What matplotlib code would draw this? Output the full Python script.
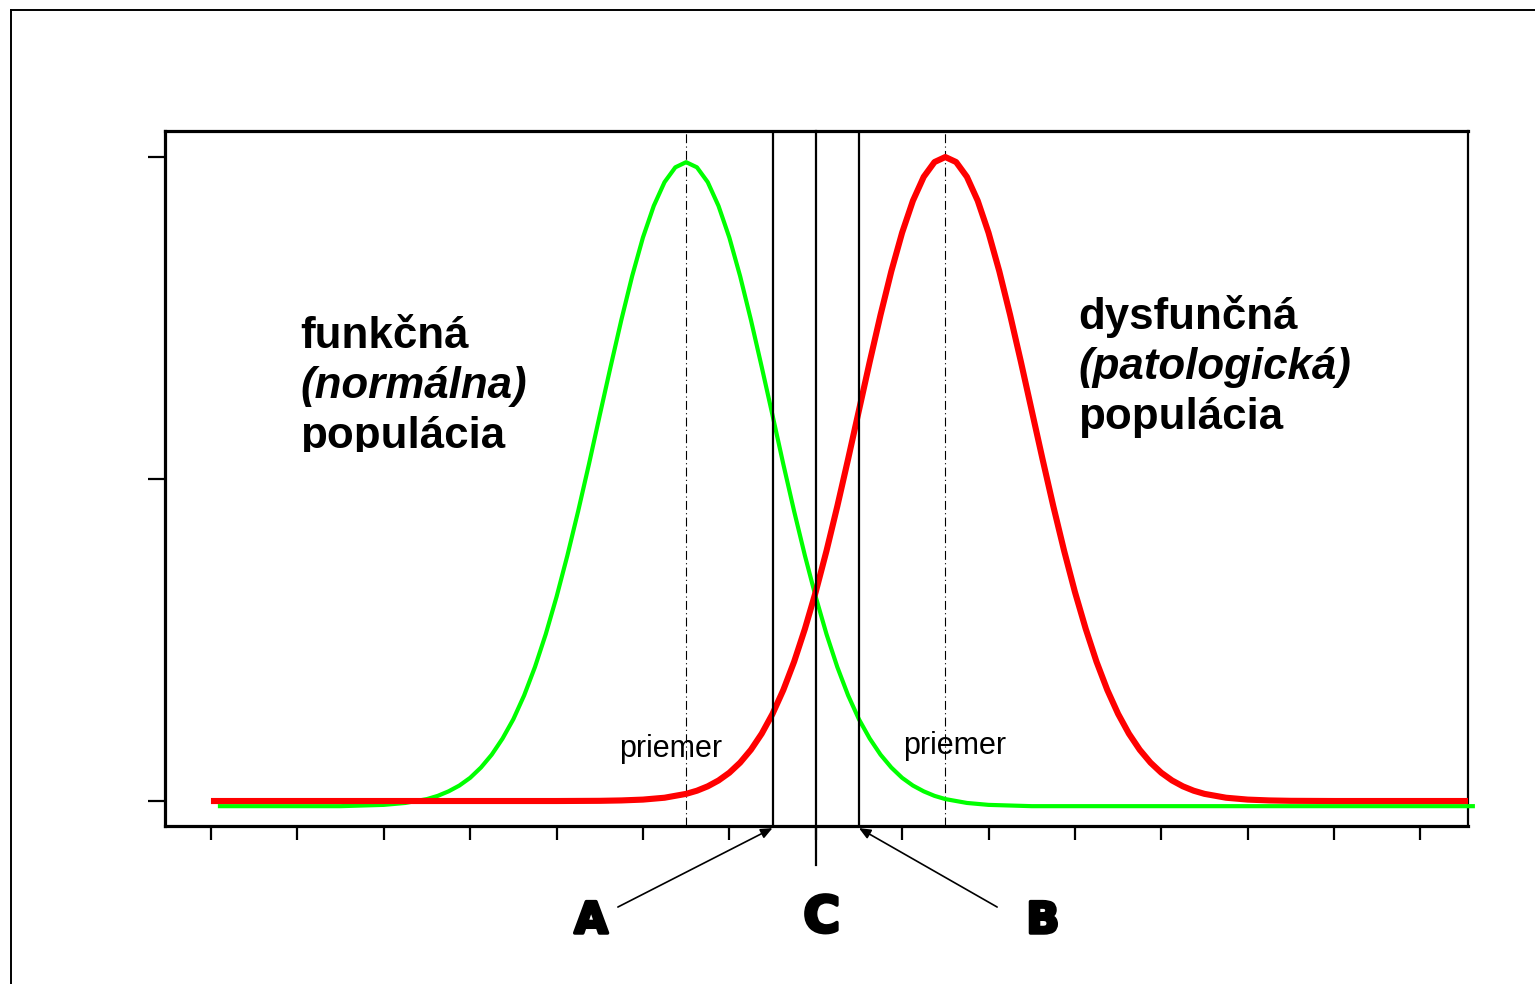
import matplotlib
matplotlib.use("Agg")
import matplotlib.pyplot as plt
from matplotlib.lines import Line2D
from matplotlib.patches import Rectangle
import matplotlib.patheffects as pe

# ---------------- data ----------------
green_x = [0.08, 1.0, 1.5, 2.0, 2.25, 2.5, 2.625, 2.75, 2.875, 3.0, 3.125, 3.25, 3.375,
           3.5, 3.625, 3.75, 3.875, 4.0, 4.125, 4.25, 4.375, 4.5, 4.625, 4.75, 4.875,
           5.0, 5.125, 5.25, 5.375, 5.5, 5.625, 5.75, 5.875, 6.0, 6.125, 6.25, 6.375,
           6.5, 6.625, 6.75, 6.875, 7.0, 7.125, 7.25, 7.375, 7.5, 7.625, 7.75, 7.875,
           8.0, 8.125, 8.25, 8.375, 8.5, 8.75, 9.0, 9.5, 10.0, 12.0, 14.63]
green_y = [-0.008, -0.008, -0.008, -0.006, -0.003, 0.003, 0.008, 0.015, 0.024, 0.036,
           0.052, 0.072, 0.097, 0.127, 0.164, 0.208, 0.259, 0.317, 0.381, 0.450, 0.523,
           0.599, 0.674, 0.747, 0.815, 0.875, 0.924, 0.961, 0.984, 0.992, 0.984, 0.961,
           0.924, 0.875, 0.815, 0.747, 0.674, 0.599, 0.523, 0.450, 0.381, 0.317, 0.259,
           0.208, 0.164, 0.127, 0.097, 0.072, 0.052, 0.036, 0.024, 0.015, 0.008, 0.003,
           -0.003, -0.006, -0.008, -0.008, -0.008, -0.008]

red_x = [0.0, 2.0, 4.0, 4.5, 4.75, 5.0, 5.25, 5.5, 5.625, 5.75, 5.875, 6.0, 6.125, 6.25,
         6.375, 6.5, 6.625, 6.75, 6.875, 7.0, 7.125, 7.25, 7.375, 7.5, 7.625, 7.75, 7.875,
         8.0, 8.125, 8.25, 8.375, 8.5, 8.625, 8.75, 8.875, 9.0, 9.125, 9.25, 9.375, 9.5,
         9.625, 9.75, 9.875, 10.0, 10.125, 10.25, 10.375, 10.5, 10.625, 10.75, 10.875,
         11.0, 11.125, 11.25, 11.375, 11.5, 11.75, 12.0, 12.25, 12.5, 13.0, 14.55]
red_y = [0.0, 0.0, 0.0, 0.0003, 0.0009, 0.0022, 0.0051, 0.0111, 0.0160, 0.0228, 0.0319,
         0.0439, 0.0596, 0.0796, 0.1046, 0.1353, 0.1724, 0.2163, 0.2674, 0.3247, 0.3886,
         0.4578, 0.5311, 0.6065, 0.6820, 0.7548, 0.8226, 0.8825, 0.9321, 0.9692, 0.9922,
         1.0, 0.9922, 0.9692, 0.9321, 0.8825, 0.8226, 0.7548, 0.6820, 0.6065, 0.5311,
         0.4578, 0.3886, 0.3247, 0.2674, 0.2163, 0.1724, 0.1353, 0.1046, 0.0796, 0.0596,
         0.0439, 0.0319, 0.0228, 0.0160, 0.0111, 0.0051, 0.0022, 0.0009, 0.0003, 0.0, 0.0]

mean_lines = [5.5, 8.5]          # "priemer" (mean) positions
cut_a, cut_c, cut_b = 6.5, 7.0, 7.5
x_ticks = list(range(0, 15))
y_ticks = [0.0, 0.5, 1.0]
left_lines = ["funkčná", "(normálna)", "populácia"]
right_lines = ["dysfunčná", "(patologická)", "populácia"]
mean_label = "priemer"

# ---------------- figure ----------------
W, H = 1535, 984
fig = plt.figure(figsize=(W / 100, H / 100), dpi=100)
fig.patch.set_facecolor("white")

def fx(px):
    return px / W

def fy(py):
    return 1 - py / H

ax = fig.add_axes([fx(165), fy(826), fx(1468) - fx(165), fy(131) - fy(826)])
ax.set_xlim(-0.532, 14.55)
ax.set_ylim(-0.0388, 1.0404)

for s in ax.spines.values():
    s.set_linewidth(2.3)
ax.spines["right"].set_linewidth(1.6)

ax.set_xticks(x_ticks)
ax.set_yticks(y_ticks)
ax.tick_params(axis="x", direction="out", length=10, width=1.6, labelbottom=False)
ax.tick_params(axis="y", direction="out", length=12, width=1.6, labelleft=False)

# mean dash-dot lines
for m in mean_lines:
    ax.axvline(m, color="black", lw=0.8, ls=(0, (8, 3, 1, 3)), zorder=2)

# curves
ax.plot(green_x, green_y, color="#00ff00", lw=3.0, clip_on=False, zorder=3,
        solid_capstyle="butt", solid_joinstyle="round")
ax.plot(red_x, red_y, color="#ff0000", lw=4.4, clip_on=False, zorder=4,
        solid_capstyle="butt", solid_joinstyle="round")

# cut-off lines
ax.axvline(cut_a, color="black", lw=1.6, zorder=5)
ax.axvline(cut_b, color="black", lw=1.6, zorder=5)
ax.axvline(cut_c, ymin=-0.056, ymax=1, color="black", lw=1.6, zorder=5, clip_on=False)

# arrows
tr = ax.get_xaxis_transform()
ax.annotate("", xy=(cut_a, -0.003), xycoords=tr, xytext=(4.71, -0.1166), textcoords=tr,
            arrowprops=dict(arrowstyle="-|>,head_length=0.7,head_width=0.3",
                            color="black", lw=1.2, shrinkA=0, shrinkB=0))
ax.annotate("", xy=(cut_b, -0.003), xycoords=tr, xytext=(9.1, -0.1166), textcoords=tr,
            arrowprops=dict(arrowstyle="-|>,head_length=0.7,head_width=0.3",
                            color="black", lw=1.2, shrinkA=0, shrinkB=0))

# A, B, C labels (heavy)
heavy = [pe.withStroke(linewidth=2.5, foreground="black")]
abc_font = dict(fontweight="heavy", family="DejaVu Sans",
                ha="center", va="baseline", color="black")
ax.text(4.40, (826 - 933) / 695, "A", transform=tr, fontsize=31,
        path_effects=heavy, **abc_font)
ax.text(7.07, (826 - 932) / 695, "C", transform=tr, fontsize=36,
        path_effects=heavy, **abc_font)
ax.text(9.63, (826 - 933) / 695, "B", transform=tr, fontsize=31,
        path_effects=heavy, **abc_font)

# priemer labels
ax.text(5.32, 0.068, mean_label, fontsize=22, family="Liberation Sans",
        ha="center", va="baseline", zorder=6)
ax.text(8.61, 0.073, mean_label, fontsize=22, family="Liberation Sans",
        ha="center", va="baseline", zorder=6)

# population texts
big = dict(fontsize=31.6, fontweight="bold", family="Liberation Sans", va="baseline",
           ha="left", color="black")
left_base = [348, 398, 448]
clip_rect = Rectangle((0, fy(452)), 1, 1, transform=fig.transFigure)
for txt, b in zip(left_lines, left_base):
    style = "italic" if txt.startswith("(") else "normal"
    t = fig.text(fx(300), fy(b), txt, style=style, **big)
    t.set_clip_path(clip_rect)

right_base = [329, 379, 429]
for txt, b in zip(right_lines, right_base):
    style = "italic" if txt.startswith("(") else "normal"
    fig.text(fx(1078), fy(b), txt, style=style, **big)

# figure border (top and left)
fig.add_artist(Line2D([fx(11), 1], [fy(10), fy(10)], color="black", lw=1.4,
                      transform=fig.transFigure))
fig.add_artist(Line2D([fx(11), fx(11)], [0, fy(10)], color="black", lw=1.4,
                      transform=fig.transFigure))

fig.savefig("out.png", dpi=100, facecolor="white")
